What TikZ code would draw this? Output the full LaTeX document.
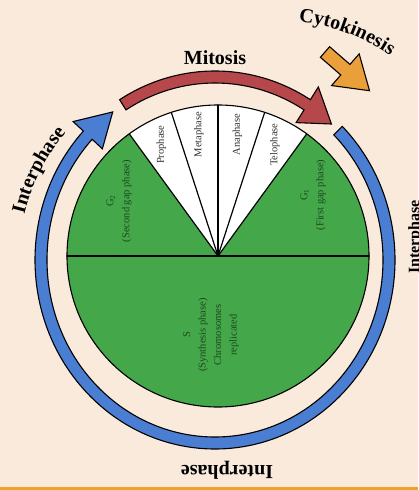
\documentclass[tikz,border=0pt]{standalone}
\usepackage{fontspec}
\setmainfont{Liberation Serif}
\usetikzlibrary{decorations.text}

\definecolor{paper}{RGB}{249,234,220}
\definecolor{edgeorange}{RGB}{240,162,40}
\definecolor{cellgreen}{RGB}{68,168,74}
\definecolor{labelgreen}{RGB}{28,72,30}
\definecolor{ringblue}{RGB}{74,126,210}
\definecolor{ringred}{RGB}{182,72,76}
\definecolor{cytoorange}{RGB}{234,160,58}

\tikzset{
  band/.style={draw=black,line width=1.1pt,line join=miter},
  phasetext/.style={rotate=90,align=center,text=black!80,
    font=\fontsize{10.5}{16}\selectfont},
  cycletext/.style={font=\bfseries\fontsize{20}{24}\selectfont},
}

\begin{document}
\begin{tikzpicture}[x=1pt,y=1pt,line cap=round,line join=round]
\useasboundingbox (-218,-234) rectangle (200,256);
\fill[paper] (-218,-234) rectangle (200,256);
\fill[edgeorange] (-218,-234) rectangle (200,-230.5);

\coordinate (O) at (0,0);                 % 细胞圆心
\coordinate (R) at (-3,-4);               % 外环中心（椭圆）

% 细胞
\fill[cellgreen] (O) circle (151);
\fill[white] (O) -- (54:151) arc[start angle=54,end angle=126,radius=151] -- cycle;
\draw[line width=1.1pt] (O) circle (151);
\draw[line width=1.3pt] (180:151) -- (0:151);
\foreach \a in {54,72,90,108,126}
  \draw[line width=1.2pt] (O) -- (\a:151);

\node[phasetext] (pro)  at (117:125) {Prophase};
\node[phasetext] (meta) at (99:123)  {Metaphase};
\node[phasetext] (ana)  at (81:123)  {Anaphase};
\node[phasetext] (telo) at (63:125)  {Telophase};
\node[phasetext,text=labelgreen] (gtwo) at (-99,55) {G\textsubscript{2}\\(Second gap phase)};
\node[phasetext,text=labelgreen] (gone) at (95,61)  {G\textsubscript{1}\\(First gap phase)};
\node[phasetext,text=labelgreen,font=\fontsize{10.5}{15.5}\selectfont] (sphase) at (-7,-79)
  {S\\(Synthesis phase)\\Chromosomes\\replicated};

% 外环箭头
\begin{scope}[shift={(R)}]
\draw[band,fill=ringblue] (45:180 and 189)
  arc[start angle=45,end angle=-223,x radius=180,y radius=189]
  -- (-223:194 and 203) -- (-234:174 and 183) -- (-223:154 and 163)
  -- (-223:168 and 177)
  arc[start angle=-223,end angle=45,x radius=168,y radius=177] -- cycle;
\draw[band,fill=ringred] (122:180 and 189)
  arc[start angle=122,end angle=58,x radius=180,y radius=189]
  -- (58:195 and 204) -- (48:174 and 183) -- (58:153 and 162)
  -- (58:168 and 177)
  arc[start angle=58,end angle=122,x radius=168,y radius=177] -- cycle;
\path[decorate,decoration={text along path,text align=center,
  text={|\bfseries\fontsize{20}{24}\selectfont|Interphase}}]
  (175:196) arc[start angle=175,end angle=131,radius=196];
\end{scope}

% 胞质分裂
\begin{scope}[shift={(107,204)},rotate=-41]
\draw[band,fill=cytoorange] (0,7) -- (27,7) -- (27,21) -- (59,0)
  -- (27,-21) -- (27,-7) -- (0,-7) -- cycle;
\end{scope}
\path[decorate,decoration={text along path,text align=center,
  text={|\bfseries\fontsize{20}{24}\selectfont|Cytokinesis}}]
  (57,32) ++(96:204) arc[start angle=96,end angle=43,radius=204];

\node[cycletext] (mitosis) at (-3,198) {Mitosis};
\node[cycletext,rotate=180] (interbottom) at (9,-214) {Interphase};
\node[cycletext,rotate=90,anchor=north,inner sep=0pt,
  font=\bfseries\fontsize{16}{20}\selectfont] (interright) at (190,19) {Interphase};
\end{tikzpicture}
\end{document}
